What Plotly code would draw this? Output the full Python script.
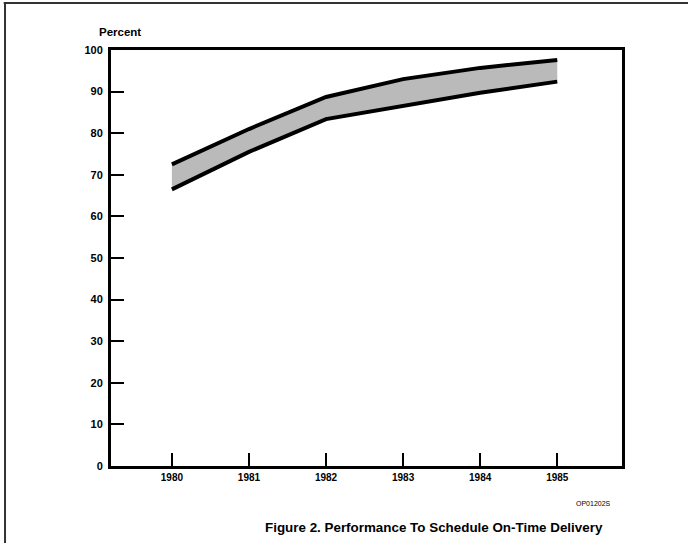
import plotly.graph_objects as go

years = [1980, 1981, 1982, 1983, 1984, 1985]
upper = [72.5, 81.0, 88.7, 93.0, 95.7, 97.6]
lower = [66.5, 75.5, 83.4, 86.5, 89.7, 92.4]
y_ticks = [0, 10, 20, 30, 40, 50, 60, 70, 80, 90, 100]
x_tick_labels = [str(y) for y in years]

FONT = "Liberation Sans"

fig = go.Figure()
fig.add_trace(go.Scatter(
    x=years, y=lower, mode="lines",
    line=dict(color="black", width=4),
    showlegend=False, hoverinfo="skip",
))
fig.add_trace(go.Scatter(
    x=years, y=upper, mode="lines",
    line=dict(color="black", width=4),
    fill="tonexty",
    fillcolor="#bababa",
    showlegend=False, hoverinfo="skip",
))

fig.update_layout(
    width=688, height=543,
    margin=dict(l=111, r=66, t=50, b=77),
    paper_bgcolor="white", plot_bgcolor="white",
    font=dict(family=FONT, color="black"),
    xaxis=dict(
        range=[1979.21, 1985.84],
        tickvals=years, ticktext=x_tick_labels,
        ticks="inside", ticklen=13, tickwidth=2, tickcolor="black",
        tickfont=dict(family=FONT, size=10, weight="bold", color="black"),
        showline=True, linecolor="black", linewidth=3, mirror=True,
        showgrid=False, zeroline=False, fixedrange=True,
    ),
    yaxis=dict(
        range=[0, 100],
        tickvals=y_ticks,
        ticks="inside", ticklen=13, tickwidth=2, tickcolor="black",
        ticklabelstandoff=3,
        tickfont=dict(family=FONT, size=11, weight="bold", color="black"),
        showline=True, linecolor="black", linewidth=3, mirror=True,
        showgrid=False, zeroline=False, fixedrange=True,
    ),
    annotations=[
        dict(text="Percent", x=-0.028, y=1.043, xref="paper", yref="paper",
             xanchor="left", yanchor="middle", showarrow=False,
             font=dict(family=FONT, size=11.5, weight="bold", color="black")),
        dict(text="OP01202S", x=0.945, y=-0.089, xref="paper", yref="paper",
             xanchor="center", yanchor="middle", showarrow=False,
             font=dict(family=FONT, size=7, color="black")),
        dict(text="Figure 2. Performance To Schedule On-Time Delivery", x=0.632, y=-0.149,
             xref="paper", yref="paper", xanchor="center", yanchor="middle", showarrow=False,
             font=dict(family=FONT, size=13.4, weight="bold", color="black")),
    ],
    shapes=[
        dict(type="line", xref="paper", yref="paper", x0=-0.21, x1=1.13, y0=1.113, y1=1.113,
             line=dict(color="#333333", width=2)),
        dict(type="line", xref="paper", yref="paper", x0=-0.2074, x1=-0.2074, y0=-0.19, y1=1.113,
             line=dict(color="#333333", width=2)),
    ],
)

fig.write_html("out.html", config={"displayModeBar": False},
               post_script="document.body.style.margin='0';")
